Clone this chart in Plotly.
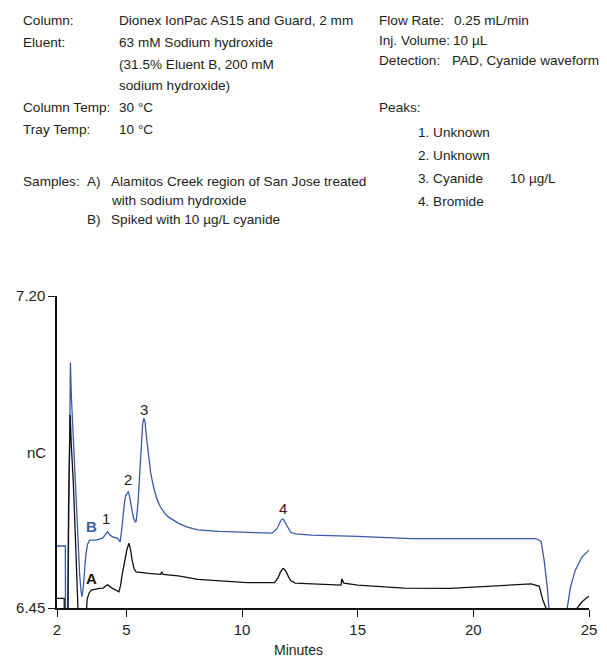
import plotly.graph_objects as go

# ---- data ----
t_B = [2.00, 2.36, 2.37, 2.47, 2.50, 2.54, 2.58, 2.62, 2.70, 2.77, 2.85, 2.91, 2.98, 3.04, 3.08,
       3.13, 3.19, 3.25, 3.32, 3.41, 3.69, 3.97, 4.10, 4.19, 4.28, 4.40, 4.61, 4.73, 4.80, 4.85,
       4.92, 4.97, 5.03, 5.08, 5.13, 5.21, 5.30, 5.38, 5.42, 5.50, 5.56, 5.63, 5.70, 5.75, 5.80,
       5.87, 5.96, 6.05, 6.17, 6.30, 6.46, 6.65, 6.81, 7.00, 7.24, 7.60, 8.09, 9.00, 10.22, 11.30,
       11.50, 11.60, 11.70, 11.75, 11.80, 11.90, 12.00, 12.10, 12.30, 13.00, 15.00, 17.30, 20.00,
       22.70, 22.93, 23.06, 23.21, 23.28, 23.35, 24.00, 24.06, 24.20, 24.41, 24.70, 25.00]
v_B = [6.599, 6.599, 6.380, 6.380, 6.620, 6.900, 7.040, 6.960, 6.860, 6.780, 6.680, 6.606, 6.530, 6.490, 6.477,
       6.495, 6.541, 6.580, 6.603, 6.613, 6.613, 6.618, 6.627, 6.633, 6.626, 6.621, 6.618, 6.609, 6.640, 6.669,
       6.705, 6.720, 6.728, 6.730, 6.720, 6.694, 6.668, 6.657, 6.658, 6.700, 6.760, 6.840, 6.890, 6.906, 6.900,
       6.860, 6.810, 6.775, 6.742, 6.715, 6.694, 6.678, 6.669, 6.662, 6.654, 6.645, 6.638, 6.634, 6.631, 6.630,
       6.640, 6.652, 6.662, 6.664, 6.662, 6.652, 6.640, 6.632, 6.628, 6.625, 6.622, 6.617, 6.617,
       6.617, 6.610, 6.565, 6.493, 6.450, 6.380, 6.380, 6.450, 6.501, 6.541, 6.573, 6.589]

t_A = [2.00, 2.31, 2.33, 2.46, 2.50, 2.57, 2.62, 2.70, 2.81, 2.91, 2.95, 3.22, 3.26, 3.30, 3.38,
       3.48, 3.83, 4.00, 4.10, 4.19, 4.28, 4.40, 4.68, 4.75, 4.80, 4.88, 4.94, 5.02, 5.11, 5.18,
       5.25, 5.33, 5.42, 5.96, 6.48, 6.53, 6.58, 7.24, 8.09, 10.22, 11.40, 11.55, 11.65, 11.75,
       11.80, 11.90, 12.00, 12.10, 12.30, 14.28, 14.31, 14.40, 15.00, 17.00, 19.00, 21.00, 22.50,
       22.85, 23.00, 23.14, 23.20, 24.45, 24.49, 24.70, 25.00]
v_A = [6.473, 6.473, 6.380, 6.380, 6.700, 6.914, 6.840, 6.758, 6.597, 6.453, 6.380, 6.380, 6.450, 6.470, 6.485,
       6.493, 6.497, 6.498, 6.503, 6.506, 6.502, 6.497, 6.489, 6.505, 6.525, 6.548, 6.565, 6.590, 6.606, 6.590,
       6.565, 6.545, 6.537, 6.533, 6.531, 6.537, 6.531, 6.527, 6.519, 6.511, 6.511, 6.522, 6.535, 6.544,
       6.545, 6.538, 6.526, 6.516, 6.510, 6.505, 6.520, 6.510, 6.505, 6.498, 6.497, 6.503, 6.508,
       6.502, 6.470, 6.450, 6.380, 6.380, 6.450, 6.465, 6.479]

x_ticks = [2, 5, 10, 15, 20, 25]
y_ticks = [6.45, 7.20]
y_tick_text = ["6.45", "7.20"]

peak_labels = ["1", "2", "3", "4"]
peak_t = [4.13, 5.07, 5.75, 11.75]
peak_v = [6.664, 6.758, 6.928, 6.688]

BLUE = "#3b5aa8"
BLACK = "#111111"
TXT = "#231f20"
FONT = "Liberation Sans, Arial, Helvetica, sans-serif"

W, H = 607, 659
L, R, T, B = 57, 10, 296, 51
PW, PH = W - L - R, H - T - B

def px(x):
    return (x - L) / PW

def py(y):
    return (H - B - y) / PH

fig = go.Figure()
fig.add_trace(go.Scatter(x=t_B, y=v_B, mode="lines", line=dict(color=BLUE, width=1.3), showlegend=False))
fig.add_trace(go.Scatter(x=t_A, y=v_A, mode="lines", line=dict(color=BLACK, width=1.3), showlegend=False))

ann = []
for lab, tx, vy in zip(peak_labels, peak_t, peak_v):
    ann.append(dict(x=tx, y=vy, xref="x", yref="y", text=lab, showarrow=False,
                    font=dict(family=FONT, size=15, color=TXT), xanchor="center", yanchor="middle"))
ann.append(dict(x=3.49, y=6.645, xref="x", yref="y", text="<b>B</b>", showarrow=False,
                font=dict(family=FONT, size=15, color=BLUE), xanchor="center", yanchor="middle"))
ann.append(dict(x=3.49, y=6.522, xref="x", yref="y", text="<b>A</b>", showarrow=False,
                font=dict(family=FONT, size=15, color=BLACK), xanchor="center", yanchor="middle"))

header = [
    (20, 20, "Column:"), (118, 20, "Dionex IonPac AS15 and Guard, 2 mm"),
    (20, 42, "Eluent:"), (118, 42, "63 mM Sodium hydroxide"),
    (118, 64, "(31.5% Eluent B, 200 mM"),
    (118, 86, "sodium hydroxide)"),
    (20, 108, "Column Temp:"), (118, 108, "30 °C"),
    (20, 130, "Tray Temp:"), (118, 130, "10 °C"),
    (20, 181, "Samples:"), (85, 181, "A)"), (110, 181, "Alamitos Creek region of San Jose treated"),
    (110, 200, "with sodium hydroxide"),
    (85, 219, "B)"), (110, 219, "Spiked with 10 µg/L cyanide"),
    (382, 20, "Flow Rate:"), (458, 20, "0.25 mL/min"),
    (382, 40, "Inj. Volume:"), (457, 40, "10 µL"),
    (382, 60, "Detection:"), (456, 60, "PAD, Cyanide waveform"),
    (382, 108, "Peaks:"),
    (421, 132, "1. Unknown"),
    (421, 155, "2. Unknown"),
    (421, 178, "3. Cyanide"), (515, 178, "10 µg/L"),
    (421, 201, "4. Bromide"),
]
for hx, hy, s in header:
    ann.append(dict(x=px(hx), y=py(hy), xref="paper", yref="paper", text=s, showarrow=False,
                    font=dict(family=FONT, size=13.6, color=TXT), xanchor="left", yanchor="middle"))

ann.append(dict(x=px(48), y=py(452), xref="paper", yref="paper", text="nC", showarrow=False,
                font=dict(family=FONT, size=15, color=TXT), xanchor="right", yanchor="middle"))
ann.append(dict(x=px(302), y=py(650), xref="paper", yref="paper", text="Minutes", showarrow=False,
                font=dict(family=FONT, size=14, color=TXT), xanchor="center", yanchor="middle"))

fig.update_layout(
    width=W, height=H,
    margin=dict(l=L, r=R, t=T, b=B),
    paper_bgcolor="white", plot_bgcolor="white",
    annotations=ann,
    xaxis=dict(range=[2, 25], tickvals=x_ticks, ticks="outside", ticklen=7, tickwidth=1.3,
               tickcolor=BLACK, showline=True, linecolor=BLACK, linewidth=1.5, showgrid=False,
               zeroline=False, tickfont=dict(family=FONT, size=15, color=TXT)),
    yaxis=dict(range=[6.45, 7.20], tickvals=y_ticks, ticktext=y_tick_text, ticks="outside", ticklen=7,
               tickwidth=1.3, tickcolor=BLACK, showline=True, linecolor=BLACK, linewidth=1.5,
               showgrid=False, zeroline=False, tickfont=dict(family=FONT, size=15, color=TXT)),
)

fig.write_html("out.html")
